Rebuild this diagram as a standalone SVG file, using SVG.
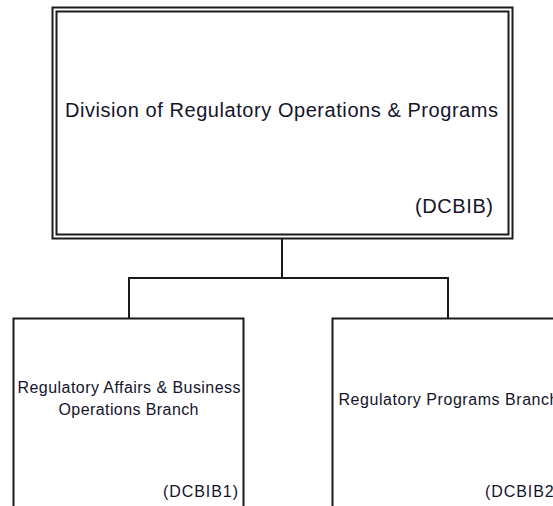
<svg xmlns="http://www.w3.org/2000/svg" width="553" height="506" viewBox="0 0 553 506">
  <style>
    .box { fill: #fff; stroke: #1a1a1a; stroke-width: 2; }
    .inner { fill: none; stroke: #1a1a1a; stroke-width: 2; }
    .wire { fill: none; stroke: #1a1a1a; stroke-width: 2; }
    text { font-family: "Liberation Sans", Arial, sans-serif; fill: #14142a; }
    .big { font-size: 20px; }
    .small { font-size: 16px; }
  </style>
  <rect width="553" height="506" fill="#fff"/>
  <g id="connectors">
    <path class="wire" d="M282 238 V278 M129 319 V278 H448 V319"/>
  </g>
  <g id="division">
    <rect class="box" x="52.5" y="7.5" width="460" height="231"/>
    <rect class="inner" x="56.5" y="11.5" width="452" height="223"/>
    <text class="big" x="65" y="117" textLength="433" lengthAdjust="spacing">Division of Regulatory Operations &amp; Programs</text>
    <text class="big" x="415" y="213" textLength="78" lengthAdjust="spacing">(DCBIB)</text>
  </g>
  <g id="dcbib1">
    <rect class="box" x="13.5" y="318.5" width="230" height="190"/>
    <text class="small" x="17.5" y="393" textLength="223" lengthAdjust="spacing">Regulatory Affairs &amp; Business</text>
    <text class="small" x="58.5" y="415" textLength="140" lengthAdjust="spacing">Operations Branch</text>
    <text class="small" x="163" y="497" textLength="75" lengthAdjust="spacing">(DCBIB1)</text>
  </g>
  <g id="dcbib2">
    <rect class="box" x="332.5" y="318.5" width="240" height="190"/>
    <text class="small" x="338.5" y="405" textLength="220" lengthAdjust="spacing">Regulatory Programs Branch</text>
    <text class="small" x="485" y="497" textLength="75" lengthAdjust="spacing">(DCBIB2)</text>
  </g>
</svg>
